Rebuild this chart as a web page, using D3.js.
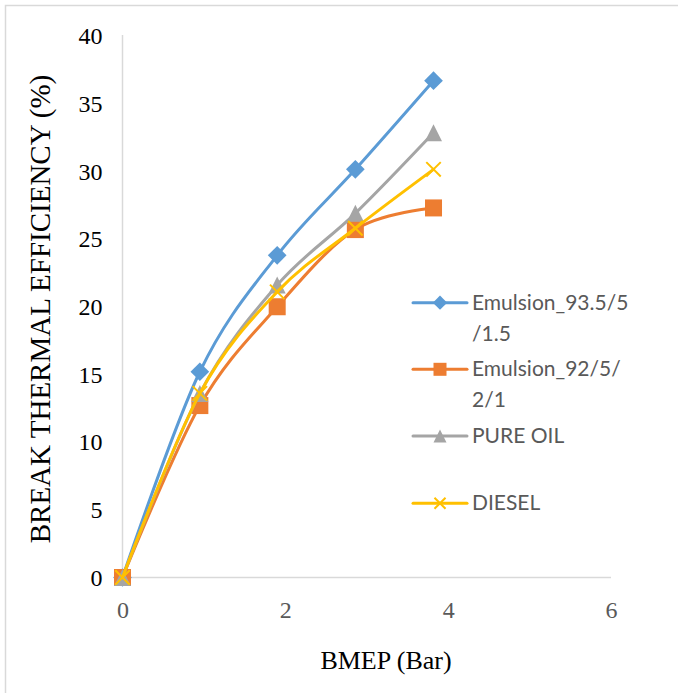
<!DOCTYPE html>
<html>
<head>
<meta charset="utf-8">
<script src="https://cdn.jsdelivr.net/npm/d3@7"></script>
<style>
  html, body { margin: 0; padding: 0; background: #fff; }
  svg { display: block; }
</style>
</head>
<body>
<div id="chart"></div>
<script>
// ── Data ──────────────────────────────────────────────────────────────────────
const bmep = [0, 0.95, 1.9, 2.86, 3.82];
const emulsion935 = [0, 15.2, 23.8, 30.15, 36.7];
const emulsion92 = [0, 12.7, 20.0, 25.7, 27.3];
const pureOil = [0, 13.6, 21.6, 26.9, 32.85];
const diesel = [0, 13.6, 21.1, 25.8, 30.15];
const xTicks = [0, 2, 4, 6];
const yTicks = [0, 5, 10, 15, 20, 25, 30, 35, 40];

const series = [
  { name: ['Emulsion_93.5/5', '/1.5'], values: emulsion935, color: '#5b9bd5', marker: 'diamond' },
  { name: ['Emulsion_92/5/', '2/1'], values: emulsion92, color: '#ed7d31', marker: 'square' },
  { name: ['PURE OIL'], values: pureOil, color: '#a5a5a5', marker: 'triangle' },
  { name: ['DIESEL'], values: diesel, color: '#ffc000', marker: 'cross' },
];

// ── SVG setup ─────────────────────────────────────────────────────────────────
const W = 678, H = 693;
const svg = d3.select('#chart')
  .append('svg')
  .attr('width', W)
  .attr('height', H);

// Chart-area frame (only top/left edges fall inside the view)
svg.append('rect')
  .attr('x', 5.5).attr('y', 5.5)
  .attr('width', 800).attr('height', 800)
  .attr('fill', 'none')
  .attr('stroke', '#d9d9d9')
  .attr('stroke-width', 1.5);

const x = d3.scaleLinear().domain([0, 6]).range([122.5, 611]);
const y = d3.scaleLinear().domain([0, 40]).range([577.5, 36]);

const serif = '"Liberation Serif", "Times New Roman", serif';

// ── Axes ──────────────────────────────────────────────────────────────────────
const yAxis = svg.append('g')
  .attr('transform', `translate(${x(0)},0)`)
  .call(d3.axisLeft(y).tickValues(yTicks).tickSize(0).tickPadding(20));
yAxis.select('.domain').remove();
yAxis.selectAll('text')
  .attr('font-family', serif)
  .attr('font-size', 24)
  .attr('fill', '#000');

const xAxis = svg.append('g')
  .attr('transform', `translate(0,${y(0)})`)
  .call(d3.axisBottom(x).tickValues(xTicks).tickFormat(d3.format('d')).tickSize(0).tickPadding(23));
xAxis.select('.domain').remove();
xAxis.selectAll('text')
  .attr('font-family', serif)
  .attr('font-size', 24)
  .attr('fill', '#595959');

// Axis lines
svg.append('line')
  .attr('x1', x(0)).attr('x2', x(0))
  .attr('y1', 35).attr('y2', y(0))
  .attr('stroke', '#d9d9d9').attr('stroke-width', 1.5);
svg.append('line')
  .attr('x1', x(0)).attr('x2', x(6))
  .attr('y1', y(0)).attr('y2', y(0))
  .attr('stroke', '#d9d9d9').attr('stroke-width', 1.5);

// Axis titles
svg.append('text')
  .attr('x', 386).attr('y', 669)
  .attr('text-anchor', 'middle')
  .attr('font-family', serif)
  .attr('font-size', 26)
  .attr('fill', '#000')
  .text('BMEP (Bar)');

svg.append('text')
  .attr('transform', 'translate(50,309) rotate(-90)')
  .attr('text-anchor', 'middle')
  .attr('font-family', serif)
  .attr('font-size', 29)
  .attr('fill', '#000')
  .text('BREAK THERMAL EFFICIENCY (%)');

// ── Markers ───────────────────────────────────────────────────────────────────
function drawMarker(g, type, cx, cy, s, color) {
  const h = s / 2;
  if (type === 'square') {
    g.append('rect')
      .attr('x', cx - h).attr('y', cy - h)
      .attr('width', s).attr('height', s)
      .attr('fill', color);
  } else if (type === 'diamond') {
    const d = h * 1.1;
    g.append('path')
      .attr('d', `M${cx},${cy - d}L${cx + d},${cy}L${cx},${cy + d}L${cx - d},${cy}Z`)
      .attr('fill', color);
  } else if (type === 'triangle') {
    g.append('path')
      .attr('d', `M${cx},${cy - h}L${cx + h},${cy + h}L${cx - h},${cy + h}Z`)
      .attr('fill', color);
  } else if (type === 'cross') {
    const c = h * 0.85;
    g.append('path')
      .attr('d', `M${cx - c},${cy - c}L${cx + c},${cy + c}M${cx - c},${cy + c}L${cx + c},${cy - c}`)
      .attr('stroke', color)
      .attr('stroke-width', 2)
      .attr('fill', 'none');
  }
}

// ── Series ────────────────────────────────────────────────────────────────────
const line = d3.line()
  .x(d => x(d[0]))
  .y(d => y(d[1]))
  .curve(d3.curveCardinal.tension(0));

const plot = svg.append('g');
series.forEach(s => {
  const pts = bmep.map((b, i) => [b, s.values[i]]);
  const sg = plot.append('g');
  sg.append('path')
    .datum(pts)
    .attr('d', line)
    .attr('fill', 'none')
    .attr('stroke', s.color)
    .attr('stroke-width', 3)
    .attr('stroke-linecap', 'round');
  pts.forEach(p => drawMarker(sg, s.marker, x(p[0]), y(p[1]), 17, s.color));
});

// ── Legend ────────────────────────────────────────────────────────────────────
const legendY = [302.7, 369.3, 436, 503.3];
const legend = svg.append('g');
series.forEach((s, i) => {
  const ly = legendY[i];
  const lg = legend.append('g');
  lg.append('line')
    .attr('x1', 413).attr('x2', 467)
    .attr('y1', ly).attr('y2', ly)
    .attr('stroke', s.color)
    .attr('stroke-width', 3)
    .attr('stroke-linecap', 'round');
  drawMarker(lg, s.marker, 440, ly, 13, s.color);
  s.name.forEach((t, j) => {
    lg.append('text')
      .attr('x', 472)
      .attr('y', ly + 7 + j * 31)
      .attr('font-family', 'Lato, "Open Sans", sans-serif')
      .attr('font-size', 21)
      .attr('fill', '#595959')
      .text(t);
  });
});
</script>
</body>
</html>
